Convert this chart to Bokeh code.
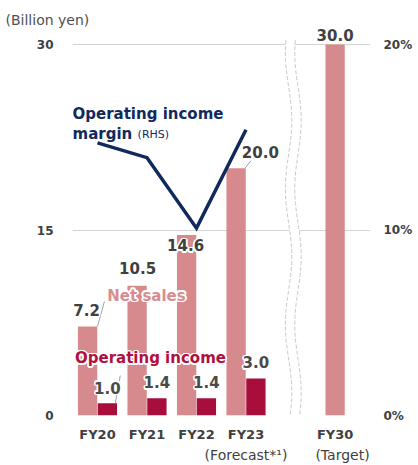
import numpy as np
from bokeh.plotting import figure
from bokeh.models import (ColumnDataSource, Range1d, LinearAxis, FixedTicker)
from bokeh.core.properties import value
from bokeh.embed import file_html
from bokeh.resources import INLINE

# ---------------- data ----------------
categories = ["FY20", "FY21", "FY22", "FY23", "FY30"]
net_sales = [7.2, 10.5, 14.6, 20.0, 30.0]
op_categories = ["FY20", "FY21", "FY22", "FY23"]
op_income = [1.0, 1.4, 1.4, 3.0]
op_margin = [14.7, 13.9, 10.1, 15.4]          # % (RHS)
left_ticks = [0, 15, 30]
right_ticks = [0, 10, 20]
sub_categories = ["FY23", "FY30"]
sub_labels = ["(Forecast*¹)", "(Target)"]
unit_label = "(Billion yen)"

# ---------------- layout ----------------
x_pos = {"FY20": 0.0, "FY21": 1.0, "FY22": 2.0, "FY23": 3.0, "FY30": 4.8}
sub_shift = {"FY23": 0.0, "FY30": 0.15}
pair_offset = 0.2
bar_w = 0.39
net_lbl_dx = [-0.02, 0.01, -0.02, 0.49, 0.0]
net_lbl_dy = [1.37, 1.39, -0.85, 1.27, 0.73]
op_lbl_dx = [0.0, 0.0, 0.0, 0.0]
op_lbl_dy = [1.26, 1.27, 1.27, 1.29]

FONT = "DejaVu Sans"
NET_C = "#d78a8d"
OP_C = "#a80e3c"
LINE_C = "#102a5e"
TXT_C = "#404040"

Y_END = 30 * (415 - 28) / (415 - 44)
p = figure(width=418, height=465, output_backend="svg", toolbar_location=None,
           x_range=Range1d(-0.505, 5.515), y_range=Range1d(0, Y_END),
           min_border_left=72, min_border_right=48, min_border_top=28, min_border_bottom=50)
p.outline_line_color = None
p.background_fill_color = "white"
p.border_fill_color = "white"
p.xgrid.visible = False
p.ygrid.ticker = FixedTicker(ticks=left_ticks)
p.ygrid.grid_line_color = "#d4d4d4"
p.ygrid.grid_line_width = 1

# unit label as title (top-left)
p.title.text = unit_label
p.title.align = "left"
p.title.offset = -67
p.title.standoff = 2
p.title.text_font = FONT
p.title.text_font_style = "normal"
p.title.text_font_size = "14px"
p.title.text_color = "#505050"


def style_axis(ax, standoff, size="12px", fstyle="bold"):
    ax.axis_line_color = None
    ax.major_tick_line_color = None
    ax.minor_tick_line_color = None
    ax.major_tick_out = 0
    ax.major_tick_in = 0
    ax.major_label_standoff = standoff
    ax.major_label_text_font = FONT
    ax.major_label_text_font_style = fstyle
    ax.major_label_text_font_size = size
    ax.major_label_text_color = TXT_C


# left axis
ya = p.yaxis[0]
ya.ticker = FixedTicker(ticks=left_ticks)
style_axis(ya, 19)

# right axis
p.extra_y_ranges = {"pct": Range1d(0, Y_END * 20 / 30)}
ra = LinearAxis(y_range_name="pct", ticker=FixedTicker(ticks=right_ticks))
ra.major_label_overrides = {t: f"{t}%" for t in right_ticks}
style_axis(ra, 13)
p.add_layout(ra, "right")

# bottom axis (categories)
xa = p.xaxis[0]
xa.ticker = FixedTicker(ticks=[x_pos[c] for c in categories])
xa.major_label_overrides = {x_pos[c]: c for c in categories}
style_axis(xa, 11, size="13px")

# second bottom axis (sub labels)
sub_ticks = [x_pos[c] + sub_shift[c] for c in sub_categories]
xb = LinearAxis(ticker=FixedTicker(ticks=sub_ticks))
xb.major_label_overrides = {t: s for t, s in zip(sub_ticks, sub_labels)}
style_axis(xb, 2, size="14px", fstyle="normal")
p.add_layout(xb, "below")

# ---------------- bars ----------------
net_x = [x_pos[c] - (pair_offset if c in op_categories else 0.0) for c in categories]
op_x = [x_pos[c] + pair_offset for c in op_categories]
p.vbar(x=net_x, top=net_sales, bottom=0, width=bar_w, fill_color=NET_C, line_color=None)
p.vbar(x=op_x, top=op_income, bottom=0, width=bar_w, fill_color=OP_C, line_color=None)

# ---------------- axis break ----------------
yy = np.linspace(0.1, 30.4, 120)
c1, c2, amp = 3.86, 4.05, 0.065
wave = amp * np.cos(2 * np.pi * (yy - 23.85) / 11.0)
xl = c1 + wave
xr = c2 + wave
p.patch(np.concatenate([xl, xr[::-1]]), np.concatenate([yy, yy[::-1]]),
        fill_color="white", line_color=None)
p.line(xl, yy, line_color="#c8c8c8", line_width=1, line_dash="4 2")
p.line(xr, yy, line_color="#c8c8c8", line_width=1, line_dash="4 2")

# ---------------- margin line ----------------
p.line([x_pos[c] for c in op_categories], op_margin, y_range_name="pct",
       line_color=LINE_C, line_width=3.5, line_join="miter")

# ---------------- leader lines ----------------
p.segment(x0=[0.14, 0.46, 2.98], y0=[9.22, 3.23, 20.0],
          x1=[0.0, 0.36, 3.10], y1=[7.2, 1.0, 20.6],
          line_color="#a0a0a0", line_width=1)


# ---------------- text helper ----------------
def halo_text(x, y, text, color, size, style="bold", align="center", halo=1.6):
    src = ColumnDataSource(dict(x=x, y=y, t=text))
    if halo:
        for ang in np.linspace(0, 2 * np.pi, 12, endpoint=False):
            p.text(x="x", y="y", text="t", source=src,
                   x_offset=halo * np.cos(ang), y_offset=halo * np.sin(ang),
                   text_color="white", text_font=value(FONT), text_font_style=style,
                   text_font_size=size, text_align=align, text_baseline="middle")
    p.text(x="x", y="y", text="t", source=src, text_color=color,
           text_font=value(FONT), text_font_style=style, text_font_size=size,
           text_align=align, text_baseline="middle")


# value labels
halo_text([nx + dx for nx, dx in zip(net_x, net_lbl_dx)],
          [v + dy for v, dy in zip(net_sales, net_lbl_dy)],
          [f"{v:.1f}" for v in net_sales], TXT_C, "15px")
halo_text([ox + dx for ox, dx in zip(op_x, op_lbl_dx)],
          [v + dy for v, dy in zip(op_income, op_lbl_dy)],
          [f"{v:.1f}" for v in op_income], "#4a4a4a", "15px")

# series labels
halo_text([0.99], [9.70], ["Net sales"], "#d98c90", "15px")
halo_text([1.07], [4.61], ["Operating income"], "#b0103f", "15px")
halo_text([-0.505], [24.42], ["Operating income"], LINE_C, "15px", align="left", halo=0)
halo_text([-0.505], [22.80], ["margin"], LINE_C, "15px", align="left", halo=0)
halo_text([0.81], [22.75], ["(RHS)"], LINE_C, "11px", style="normal", align="left", halo=0)

open("out.html", "w").write(file_html(p, INLINE))
